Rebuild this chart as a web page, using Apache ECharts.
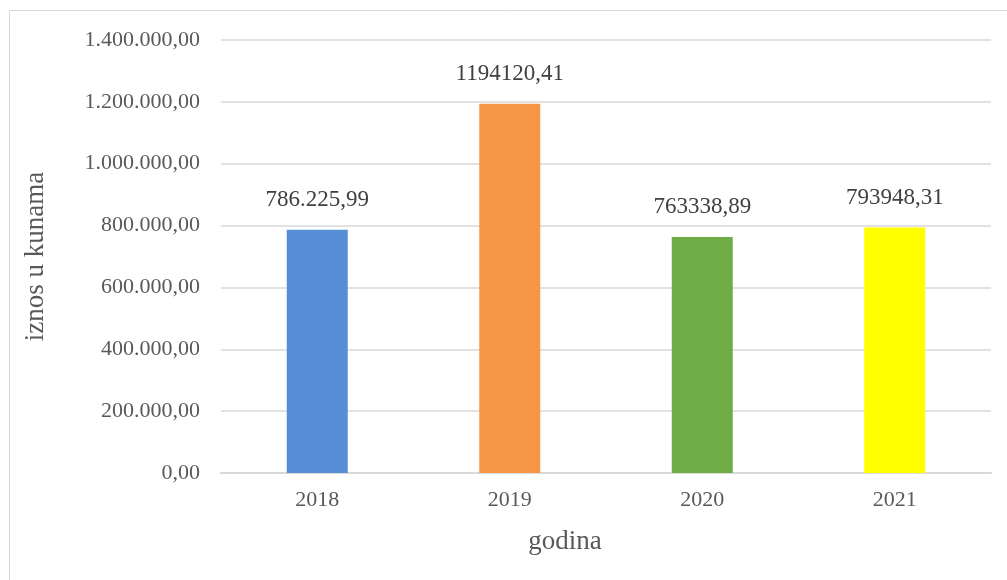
<!DOCTYPE html>
<html>
<head>
<meta charset="utf-8">
<script src="https://cdn.jsdelivr.net/npm/echarts@6/dist/echarts.min.js"></script>
<style>
  html, body { margin: 0; padding: 0; background: #fff; }
  #chart { width: 1007px; height: 580px; }
</style>
</head>
<body>
<div id="chart"></div>
<script>
const years = ['2018', '2019', '2020', '2021']
const amounts = [786225.99, 1194120.41, 763338.89, 793948.31]
const amountLabels = ['786.225,99', '1194120,41', '763338,89', '793948,31']
const barColors = ['#558ed5', '#f79646', '#70ad47', '#ffff00']
const yTicks = ['0,00', '200.000,00', '400.000,00', '600.000,00', '800.000,00', '1.000.000,00', '1.200.000,00', '1.400.000,00']

const font = '"Liberation Serif", "DejaVu Serif", serif'

let chart = echarts.init(document.getElementById('chart'))
let option = {
  animation: false,
  textStyle: { fontFamily: font },
  graphic: [{
    type: 'rect',
    shape: { x: 9.5, y: 10.5, width: 1020, height: 600 },
    style: { fill: 'none', stroke: '#d9d9d9', lineWidth: 1 },
    silent: true
  }],
  grid: { left: 221, right: 16, top: 40, bottom: 107 },
  xAxis: {
    type: 'category',
    data: years,
    name: 'godina',
    nameLocation: 'middle',
    nameGap: 55,
    nameTextStyle: { fontSize: 27, color: '#595959', fontFamily: font, padding: [0, 82, 0, 0] },
    axisLine: { lineStyle: { color: '#d9d9d9', width: 2 } },
    axisTick: { show: false },
    axisLabel: { fontSize: 22, color: '#595959', margin: 16, fontFamily: font }
  },
  yAxis: {
    type: 'value',
    min: 0,
    max: 1400000,
    interval: 200000,
    name: 'iznos u kunama',
    nameLocation: 'middle',
    nameGap: 172,
    nameTextStyle: { fontSize: 27, color: '#595959', fontFamily: font },
    axisLine: { show: false },
    axisTick: { show: false },
    splitLine: { lineStyle: { color: '#d9d9d9', width: 1.5 } },
    axisLabel: {
      fontSize: 22, color: '#595959', margin: 21, fontFamily: font,
      formatter: function (v) { return yTicks[Math.round(v / 200000)] }
    }
  },
  series: [{
    type: 'bar',
    barWidth: 61,
    data: amounts.map((v, i) => ({ value: v, itemStyle: { color: barColors[i] } })),
    label: {
      show: true,
      position: 'top',
      distance: 18,
      fontSize: 23,
      color: '#404040',
      fontFamily: font,
      formatter: p => amountLabels[p.dataIndex]
    }
  }]
}
chart.setOption(option)
</script>
</body>
</html>
